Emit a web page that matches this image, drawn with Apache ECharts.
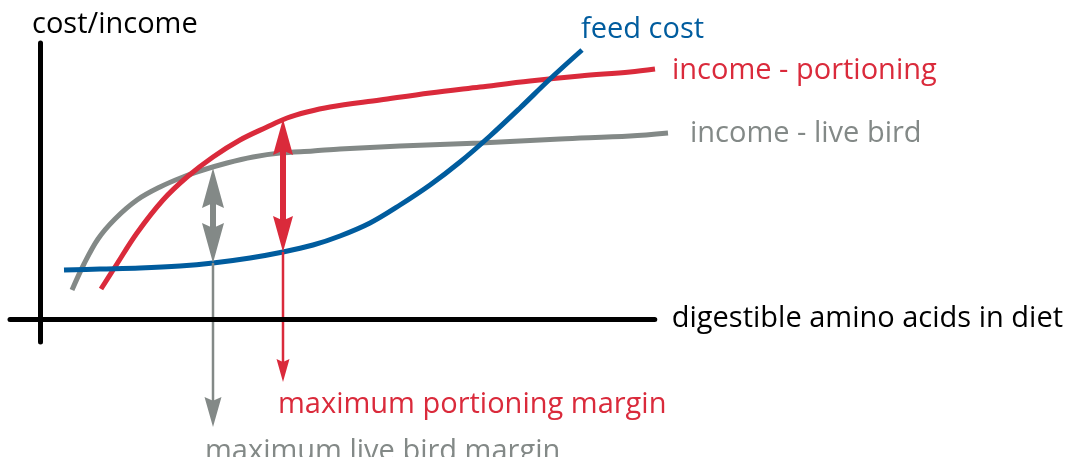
<!DOCTYPE html>
<html>
<head>
<meta charset="utf-8">
<script src="https://cdn.jsdelivr.net/npm/echarts@6/dist/echarts.min.js"></script>
<style>
  html, body { margin: 0; padding: 0; background: #fff; }
  #chart { width: 1066px; height: 457px; }
</style>
</head>
<body>
<div id="chart"></div>
<script>
  // schematic: arbitrary units, x = digestible amino acids, y = cost / income
  var feedCostX = [24, 60, 100, 140, 173, 210, 243, 273, 300, 330, 360, 390, 420, 450, 480, 510, 542];
  var feedCostY = [49, 50, 51, 53, 56, 61, 67, 74, 83, 96, 114, 134, 157, 183, 211, 240, 269];

  var portioningX = [61, 75, 97, 123, 147, 173, 200, 227, 247, 267, 290, 340, 390, 440, 490, 540, 590, 615];
  var portioningY = [30, 52, 86, 119, 142, 162, 179, 192, 201, 207, 212, 219, 226, 232, 238, 243, 247, 250];

  var liveBirdX = [32, 44, 58, 75, 97, 120, 143, 163, 187, 213, 240, 273, 300, 360, 440, 520, 590, 628];
  var liveBirdY = [29, 55, 80, 100, 119, 132, 142, 149, 156, 162, 166, 168, 170, 173, 176, 180, 183, 186];

  // margin arrows: x position, top (income), bottom (feed cost), end of pointer line
  var liveBirdMargin = { x: 173, top: 151, bottom: 56, end: -108 };
  var portionMargin = { x: 243, top: 200, bottom: 67, end: -63 };

  var names = ['feed cost', 'income - portioning', 'income - live bird'];
  var marginLabels = ['maximum live bird margin', 'maximum portioning margin'];

  var BLUE = '#005c9e';
  var RED = '#da2a3b';
  var GRAY = '#838987';
  var FONT = 'Open Sans';
  var FS = 29;

  var UP = 'path://M0,40L11,0L22,40L11,35Z';
  var DOWN = 'path://M0,0L11,5L22,0L11,40Z';

  function zip(xs, ys) {
    return xs.map(function (x, i) { return [x, ys[i]]; });
  }

  function curve(name, xs, ys, color, endLabel) {
    return {
      name: name,
      type: 'line',
      smooth: 0.35,
      showSymbol: false,
      clip: false,
      data: zip(xs, ys),
      lineStyle: { color: color, width: 5 },
      endLabel: Object.assign({
        show: true,
        formatter: '{a}',
        color: color,
        fontFamily: FONT,
        fontSize: FS
      }, endLabel)
    };
  }

  function shaft(x, y1, y2, color, width) {
    return {
      type: 'line',
      showSymbol: false,
      clip: false,
      silent: true,
      z: 4,
      data: [[x, y1], [x, y2]],
      lineStyle: { color: color, width: width, cap: 'butt' }
    };
  }

  function marginArrow(m, color, big, small, label, labelOffset, labelDist) {
    var list = [];
    list.push(shaft(m.x, m.top - 14, m.bottom + 14, color, 6));
    list.push(shaft(m.x, m.bottom, m.end + small[1] - 4, color, 2.5));
    list.push({
      type: 'scatter',
      clip: false,
      silent: true,
      z: 5,
      itemStyle: { color: color, opacity: 1 },
      data: [
        { value: [m.x, m.top], symbol: UP, symbolSize: big, symbolOffset: [0, big[1] / 2] },
        { value: [m.x, m.bottom], symbol: DOWN, symbolSize: big, symbolOffset: [0, -big[1] / 2] },
        {
          value: [m.x, m.end], symbol: DOWN, symbolSize: small, symbolOffset: [0, -small[1] / 2],
          label: {
            show: true,
            formatter: label,
            position: 'bottom',
            align: 'left',
            distance: labelDist,
            offset: labelOffset,
            color: color,
            fontFamily: FONT,
            fontSize: FS
          }
        }
      ]
    });
    return list;
  }

  var chart = echarts.init(document.getElementById('chart'));

  var series = [
    curve(names[2], liveBirdX, liveBirdY, GRAY, { distance: 22, offset: [0, 1] }),
    curve(names[1], portioningX, portioningY, RED, { distance: 17, offset: [0, 2] }),
    curve(names[0], feedCostX, feedCostY, BLUE, { distance: 0, offset: [-1, -20] })
  ];
  series = series
    .concat(marginArrow(liveBirdMargin, GRAY, [22, 40], [17, 30], marginLabels[0], [-8, 0], 10))
    .concat(marginArrow(portionMargin, RED, [20, 36], [13, 23], marginLabels[1], [-5, 0], 8));

  chart.setOption({
    animation: false,
    grid: [
      // plotting area
      { left: 10, right: 398, top: 43, bottom: 115 },
      // only carries the horizontal axis line and its name
      { left: 10, right: 411, top: 0, bottom: 138 }
    ],
    xAxis: [
      {
        type: 'value',
        gridIndex: 0,
        min: -30,
        max: 628,
        axisLine: { show: false },
        axisTick: { show: false },
        axisLabel: { show: false },
        splitLine: { show: false }
      },
      {
        type: 'value',
        gridIndex: 1,
        min: 0,
        max: 1,
        z: 6,
        position: 'bottom',
        name: 'digestible amino acids in diet',
        nameLocation: 'end',
        nameGap: 17,
        nameTextStyle: { color: '#000', fontFamily: FONT, fontSize: FS, verticalAlign: 'middle' },
        axisLine: { onZero: false, lineStyle: { color: '#000', width: 5 } },
        axisTick: { show: false },
        axisLabel: { show: false },
        splitLine: { show: false }
      }
    ],
    yAxis: [
      {
        type: 'value',
        gridIndex: 0,
        min: -23,
        max: 276,
        z: 6,
        name: 'cost/income',
        nameLocation: 'end',
        nameGap: 4,
        nameTextStyle: { color: '#000', fontFamily: FONT, fontSize: FS, align: 'left', padding: [0, 0, 0, -8] },
        axisLine: { onZero: true, lineStyle: { color: '#000', width: 5 } },
        axisTick: { show: false },
        axisLabel: { show: false },
        splitLine: { show: false }
      },
      {
        type: 'value',
        gridIndex: 1,
        show: false
      }
    ],
    series: series
  });
</script>
</body>
</html>
